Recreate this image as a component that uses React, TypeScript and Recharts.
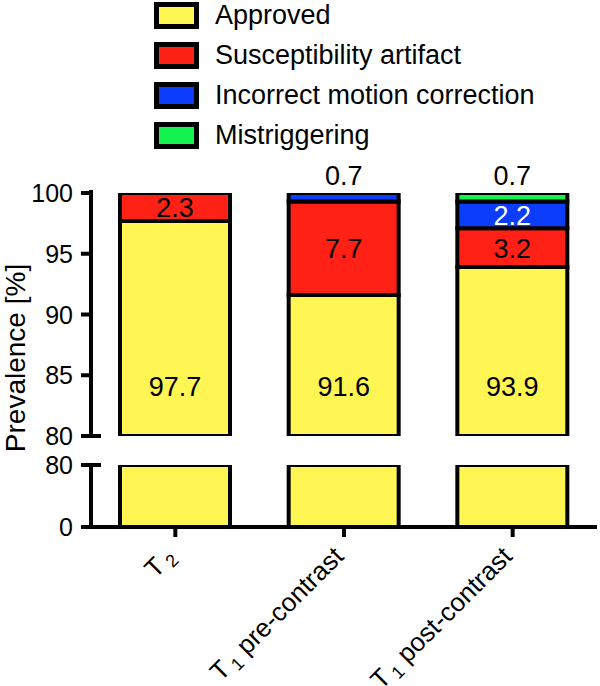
import React from "react"
import { BarChart, Bar, XAxis, YAxis, Legend, LabelList, Label } from "recharts"

const categories = ["T2", "T1 pre-contrast", "T1 post-contrast"]
const approved = [97.7, 91.6, 93.9]
const susceptibility = [2.3, 7.7, 3.2]
const motion = [0, 0.7, 2.2]
const mistriggering = [0, 0, 0.7]

const seriesNames = ["Approved", "Susceptibility artifact", "Incorrect motion correction", "Mistriggering"]
const seriesKeys = ["approved", "susceptibility", "motion", "mistriggering"]
const seriesColors = ["#FFF653", "#FF2116", "#0B3DFB", "#13F24F"]

const topTicks = [80, 85, 90, 95, 100]
const bottomTicks = [0, 80]

const data = categories.map((name, i) => ({
  name,
  approved: approved[i],
  susceptibility: susceptibility[i],
  motion: motion[i],
  mistriggering: mistriggering[i],
}))

const FONT = "'Liberation Sans', Arial, Helvetica, sans-serif"
const TOP_MARGIN = 190
const TOP_HEIGHT = 440
const TOP_BOTTOM_MARGIN = 4
const PLOT_BOTTOM = TOP_HEIGHT - TOP_BOTTOM_MARGIN

function getBox(props: any) {
  const vb = props.viewBox ?? props
  return { x: vb.x, y: vb.y, width: vb.width, height: vb.height }
}

function YTick({ x, y, payload, breakValue }: any) {
  return (
    <g>
      <text x={x} y={y} textAnchor="end" dominantBaseline="central" fontSize={25} fontFamily={FONT} fill="#000">
        {payload.value}
      </text>
      {payload.value === breakValue && (
        <line x1={x + 18} x2={x + 28} y1={y} y2={y} stroke="#000" strokeWidth={4} />
      )}
    </g>
  )
}

function XTick({ x, y, payload }: any) {
  const m = /^T(\d)(.*)$/.exec(payload.value)
  const ax = x + 1
  const ay = y + 21
  return (
    <text
      x={ax}
      y={ay}
      textAnchor="end"
      transform={`rotate(-45, ${ax}, ${ay})`}
      fontSize={26}
      fontFamily={FONT}
      fill="#000"
    >
      <tspan>T</tspan>
      <tspan dx={4} dy={5} fontSize={18}>{m ? m[1] : ""}</tspan>
      <tspan dy={-5}>{m ? m[2] : ""}</tspan>
    </text>
  )
}

function ApprovedLabel(props: any) {
  const { x, width } = getBox(props)
  return (
    <text x={x + width / 2} y={PLOT_BOTTOM - 49} textAnchor="middle" dominantBaseline="central" fontSize={27} fontFamily={FONT} fill="#000">
      {props.value}
    </text>
  )
}

function CenterLabel(props: any) {
  const { x, y, width, height } = getBox(props)
  if (!props.value) return null
  return (
    <text x={x + width / 2} y={y + height / 2 + 1} textAnchor="middle" dominantBaseline="central" fontSize={27} fontFamily={FONT} fill="#000">
      {props.value}
    </text>
  )
}

function SmallLabel(props: any) {
  const { x, y, width, height } = getBox(props)
  if (!props.value) return null
  const above = props.value < 1
  return (
    <text
      x={x + width / 2}
      y={above ? y - 17 : y + height / 2 + 1}
      textAnchor="middle"
      dominantBaseline="central"
      fontSize={27}
      fontFamily={FONT}
      fill={above ? "#000" : "#fff"}
    >
      {props.value}
    </text>
  )
}

function LegendBox() {
  return (
    <div style={{ fontFamily: FONT }}>
      {seriesNames.map((n, i) => (
        <div key={n} style={{ display: "flex", alignItems: "center", height: 40 }}>
          <div style={{ width: 35, height: 17, border: "5px solid #000", background: seriesColors[i] }} />
          <span style={{ fontSize: 27, marginLeft: 16, color: "#000", whiteSpace: "nowrap" }}>{n}</span>
        </div>
      ))}
    </div>
  )
}

function YLabel({ viewBox }: any) {
  const cx = viewBox.x + 15
  const cy = viewBox.y + viewBox.height / 2 + 45
  return (
    <text x={cx} y={cy} transform={`rotate(-90, ${cx}, ${cy})`} textAnchor="middle" dominantBaseline="central" fontSize={28} fontFamily={FONT} fill="#000">
      Prevalence [%]
    </text>
  )
}

const labelFor = [ApprovedLabel, CenterLabel, SmallLabel, SmallLabel]

export default function App() {
  return (
    <div style={{ position: "absolute", left: 0, top: 0, width: 600, height: 686, background: "#fff" }}>
      <style>{`.recharts-surface { overflow: visible; }`}</style>
      <div style={{ position: "absolute", left: 0, top: 440 }}>
        <BarChart width={600} height={246} data={data} margin={{ top: 25, right: 3, bottom: 0, left: 0 }} barSize={110}>
          <XAxis
            dataKey="name"
            height={159}
            interval={0}
            axisLine={{ stroke: "#000", strokeWidth: 4 }}
            tickLine={{ stroke: "#000", strokeWidth: 4 }}
            tickSize={10}
            tickMargin={0}
            tick={<XTick />}
          />
          <YAxis
            type="number"
            domain={[0, 80]}
            ticks={bottomTicks}
            interval={0}
            allowDataOverflow
            width={91}
            axisLine={{ stroke: "#000", strokeWidth: 4 }}
            tickLine={{ stroke: "#000", strokeWidth: 4 }}
            tickSize={10}
            tickMargin={8}
            tick={<YTick breakValue={80} />}
          />
          {seriesKeys.map((k, i) => (
            <Bar key={k} dataKey={k} name={seriesNames[i]} stackId="a" fill={seriesColors[i]} stroke="#000" strokeWidth={4} isAnimationActive={false} />
          ))}
        </BarChart>
      </div>
      <div style={{ position: "absolute", left: 0, top: 0 }}>
        <BarChart width={600} height={TOP_HEIGHT} data={data} margin={{ top: TOP_MARGIN, right: 3, bottom: TOP_BOTTOM_MARGIN, left: 0 }} barSize={110}>
          <XAxis dataKey="name" hide />
          <YAxis
            type="number"
            domain={[80, 100]}
            ticks={topTicks}
            interval={0}
            allowDataOverflow
            width={91}
            padding={{ top: 3, bottom: 0 }}
            axisLine={{ stroke: "#000", strokeWidth: 4 }}
            tickLine={{ stroke: "#000", strokeWidth: 4 }}
            tickSize={10}
            tickMargin={8}
            tick={<YTick breakValue={80} />}
          >
            <Label content={<YLabel />} />
          </YAxis>
          <Legend layout="vertical" align="center" verticalAlign="middle" wrapperStyle={{ top: -5, left: 154, width: 440, height: 160 }} content={<LegendBox />} />
          {seriesKeys.map((k, i) => (
            <Bar key={k} dataKey={k} name={seriesNames[i]} stackId="a" fill={seriesColors[i]} stroke="#000" strokeWidth={4} isAnimationActive={false}>
              <LabelList dataKey={k} content={labelFor[i]} />
            </Bar>
          ))}
        </BarChart>
      </div>
    </div>
  )
}
